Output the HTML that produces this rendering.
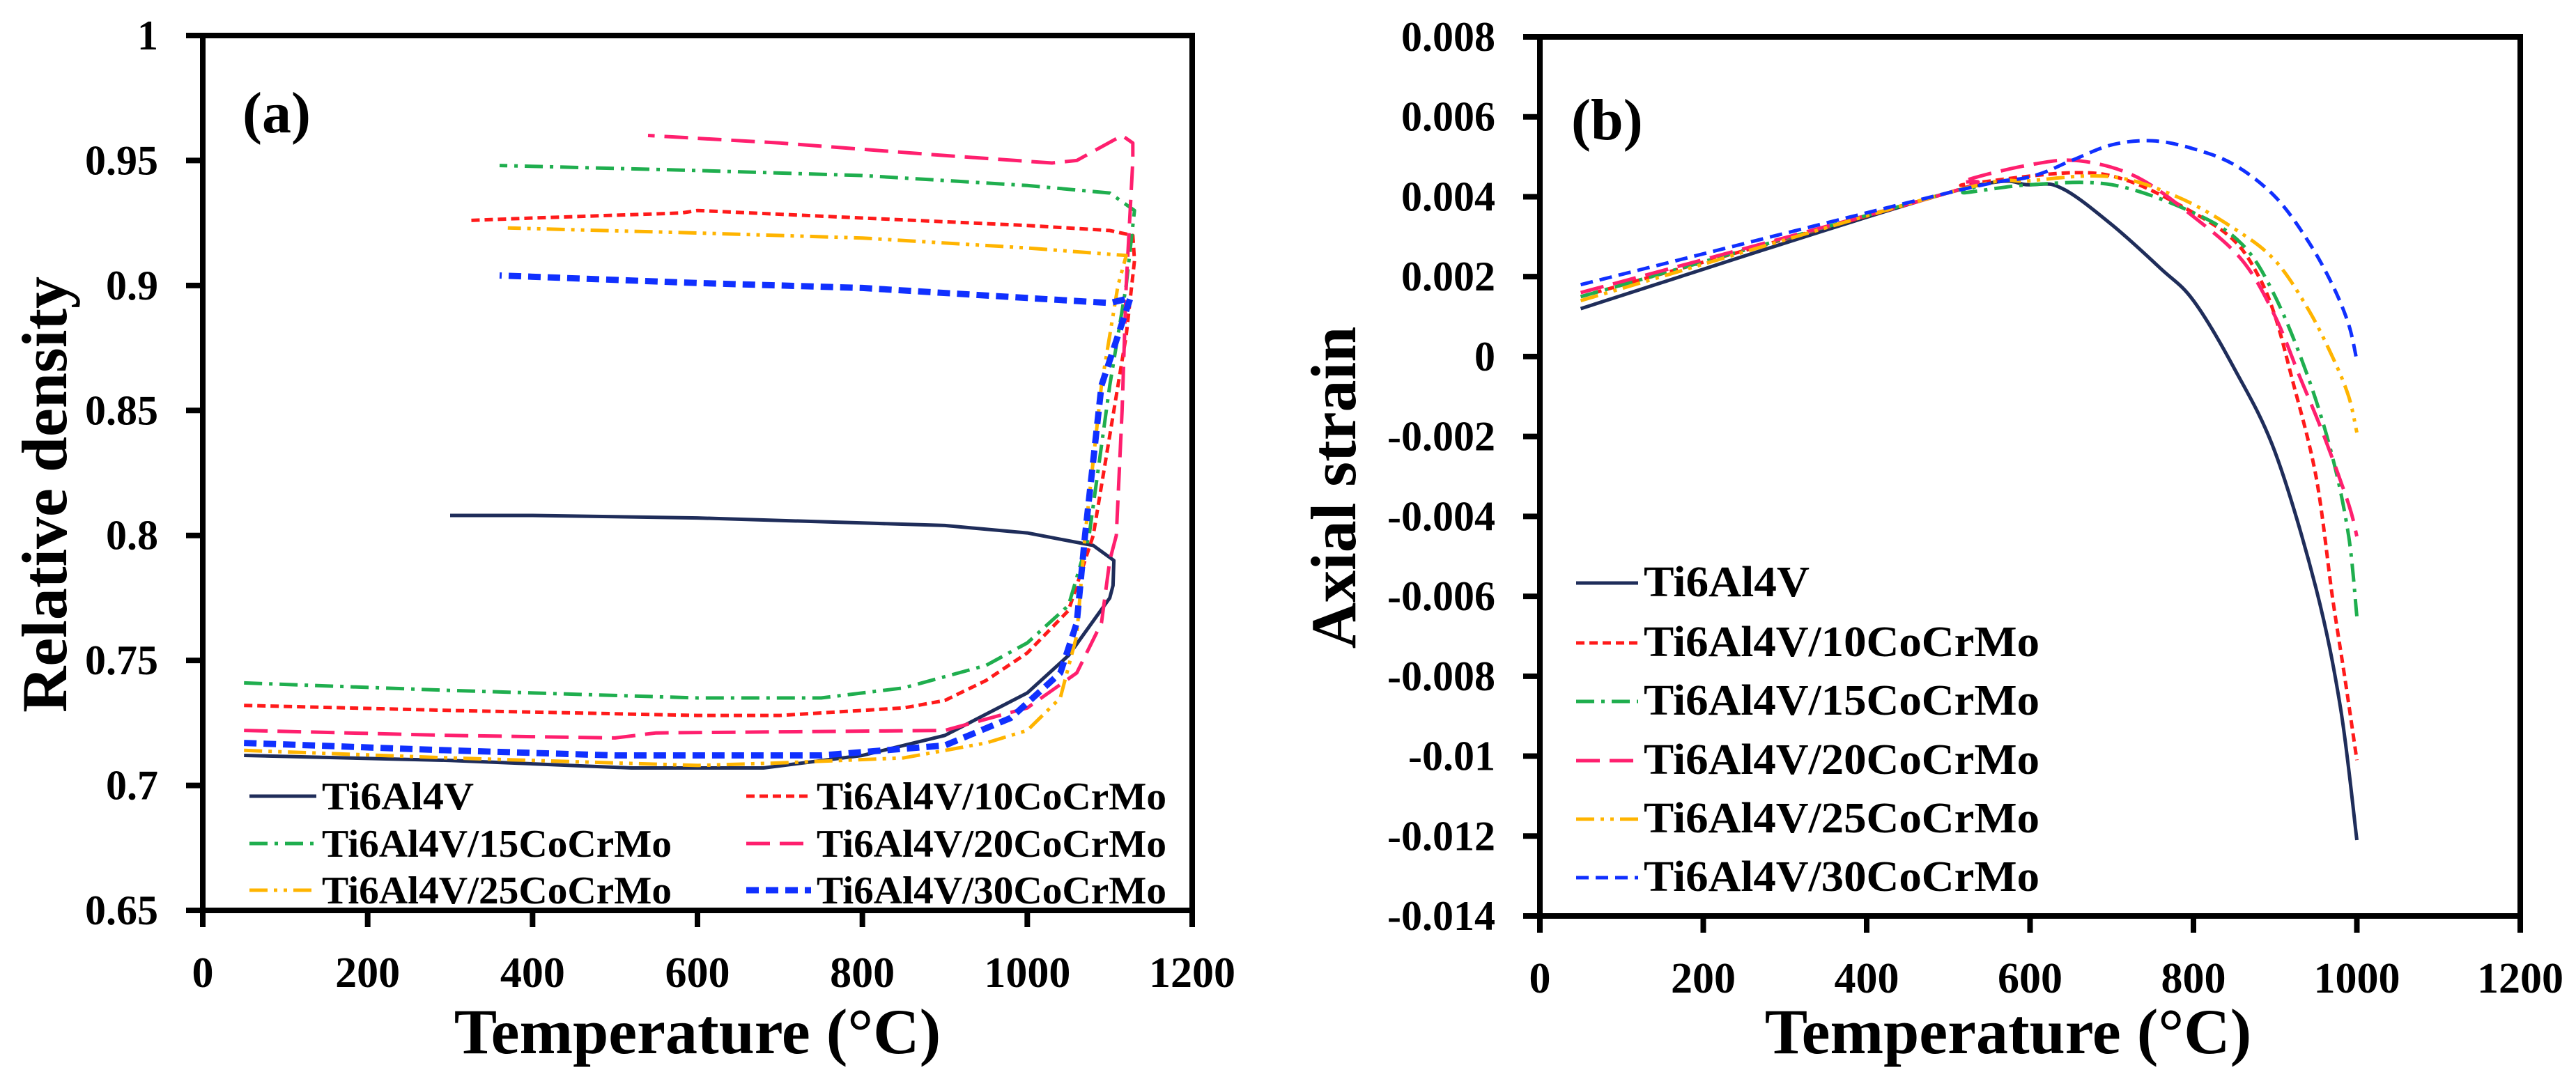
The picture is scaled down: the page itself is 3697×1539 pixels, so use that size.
<!DOCTYPE html>
<html><head><meta charset="utf-8"><style>
html,body{margin:0;padding:0;background:#fff;}
svg{display:block;}
text{font-family:"Liberation Serif",serif;font-weight:bold;fill:#000;}
</style></head><body>
<svg id="chart" width="3697" height="1539" viewBox="0 0 3697 1539" xmlns="http://www.w3.org/2000/svg">
<g id="pa"></g>
<g id="pb"></g>
</svg>
<script>
// ---------- Panel (a) data ----------
const aXTicks = [0,200,400,600,800,1000,1200];
const aYTicks = [0.65,0.7,0.75,0.8,0.85,0.9,0.95,1];
const aYLabels = ["0.65","0.7","0.75","0.8","0.85","0.9","0.95","1"];
const aT0 = [50,300,520,680,800,900,1000,1050,1100,1104,1105,1080,1000,900,800,600,400,300];
const aV0 = [0.712,0.710,0.707,0.707,0.712,0.720,0.737,0.752,0.775,0.780,0.790,0.796,0.801,0.804,0.805,0.807,0.808,0.808];
const aT10 = [50,300,600,700,850,900,950,1000,1050,1080,1100,1120,1130,1128,1100,1000,800,600,580,400,320];
const aV10 = [0.732,0.730,0.728,0.728,0.731,0.734,0.742,0.753,0.770,0.800,0.840,0.880,0.910,0.920,0.922,0.924,0.927,0.930,0.929,0.927,0.926];
const aT15 = [50,300,600,750,850,950,1000,1050,1075,1100,1120,1130,1100,1000,800,600,360];
const aV15 = [0.741,0.738,0.735,0.735,0.739,0.748,0.757,0.772,0.800,0.860,0.900,0.930,0.937,0.940,0.944,0.946,0.948];
const aT20 = [50,300,500,550,900,1000,1060,1090,1100,1108,1115,1120,1128,1128,1115,1060,1030,900,700,540];
const aV20 = [0.722,0.720,0.719,0.721,0.722,0.731,0.745,0.765,0.790,0.800,0.850,0.900,0.950,0.957,0.960,0.950,0.949,0.952,0.957,0.960];
const aT25 = [50,300,600,700,850,950,1000,1040,1060,1070,1090,1110,1120,1080,1000,800,600,370];
const aV25 = [0.714,0.711,0.708,0.709,0.711,0.717,0.722,0.735,0.760,0.800,0.860,0.900,0.912,0.913,0.915,0.919,0.921,0.923];
const aT30 = [50,300,500,750,900,980,1040,1060,1070,1090,1110,1125,1100,1000,800,600,360];
const aV30 = [0.717,0.714,0.712,0.712,0.716,0.727,0.745,0.765,0.800,0.860,0.880,0.895,0.893,0.895,0.899,0.901,0.904];

// ---------- Panel (b) data ----------
const bXTicks = [0,200,400,600,800,1000,1200];
const bYTicks = [-0.014,-0.012,-0.01,-0.008,-0.006,-0.004,-0.002,0,0.002,0.004,0.006,0.008];
const bYLabels = ["-0.014","-0.012","-0.01","-0.008","-0.006","-0.004","-0.002","0","0.002","0.004","0.006","0.008"];
const bT0 = [50,500,600,640,700,760,800,850,900,950,980,1000];
const bV0 = [0.0012,0.0041,0.0043,0.0042,0.0033,0.0022,0.0014,-0.0003,-0.0024,-0.0058,-0.0088,-0.0121];
const bT10 = [50,500,520,650,720,800,850,880,900,920,950,970,985,1000];
const bV10 = [0.0015,0.0041,0.0043,0.0046,0.0044,0.0036,0.0029,0.0020,0.0010,-0.0005,-0.0030,-0.0060,-0.0080,-0.0101];
const bT15 = [50,500,520,600,700,800,860,900,940,970,990,1000];
const bV15 = [0.0015,0.0041,0.0041,0.0043,0.0043,0.0036,0.0028,0.0015,-0.0005,-0.0025,-0.0045,-0.0065];
const bT20 = [50,500,520,600,660,730,800,860,900,930,960,990,1000];
const bV20 = [0.0016,0.0041,0.0044,0.0048,0.0049,0.0045,0.0035,0.0024,0.0010,-0.0005,-0.0020,-0.0037,-0.0045];
const bT25 = [50,500,600,700,780,850,900,940,970,990,1000];
const bV25 = [0.0014,0.0041,0.0044,0.0045,0.0040,0.0032,0.0024,0.0012,0.0000,-0.0010,-0.0019];
const bT30 = [50,500,600,650,700,750,800,850,900,940,970,990,1000];
const bV30 = [0.0018,0.0041,0.0045,0.0049,0.0053,0.0054,0.0052,0.0048,0.0040,0.0029,0.0018,0.0008,-0.0001];

const legendNames = ["Ti6Al4V","Ti6Al4V/10CoCrMo","Ti6Al4V/15CoCrMo","Ti6Al4V/20CoCrMo","Ti6Al4V/25CoCrMo","Ti6Al4V/30CoCrMo"];
const styles = [
 {c:"#1f2d5a",w:5,d:""},
 {c:"#ff1a1a",w:5,d:"12 7"},
 {c:"#1fae4e",w:5,d:"26 10 5 10"},
 {c:"#ff1f6e",w:5,d:"34 14"},
 {c:"#ffb400",w:5,d:"26 9 5 9 5 9"},
 {c:"#1030ff",w:5,d:"18 10"}
];
const NS="http://www.w3.org/2000/svg";
function mk(parent,tag,attrs,txt){const e=document.createElementNS(NS,tag);for(const k in attrs)e.setAttribute(k,attrs[k]);if(txt!==undefined)e.textContent=txt;parent.appendChild(e);return e;}
function smoothPath(P){
  let d="M"+P[0][0].toFixed(1)+","+P[0][1].toFixed(1);
  for(let i=0;i<P.length-1;i++){
    const p0=P[Math.max(i-1,0)],p1=P[i],p2=P[i+1],p3=P[Math.min(i+2,P.length-1)];
    const c1=[p1[0]+(p2[0]-p0[0])/6,p1[1]+(p2[1]-p0[1])/6];
    const c2=[p2[0]-(p3[0]-p1[0])/6,p2[1]-(p3[1]-p1[1])/6];
    d+=" C"+c1[0].toFixed(1)+","+c1[1].toFixed(1)+" "+c2[0].toFixed(1)+","+c2[1].toFixed(1)+" "+p2[0].toFixed(1)+","+p2[1].toFixed(1);
  }
  return d;
}

function drawPanel(g,cfg){
  const sx=v=>cfg.x0+(v-cfg.xmin)/(cfg.xmax-cfg.xmin)*(cfg.x1-cfg.x0);
  const sy=v=>cfg.y0+(v-cfg.ymin)/(cfg.ymax-cfg.ymin)*(cfg.y1-cfg.y0);
  cfg.series.forEach((s,i)=>{
    const P=s.t.map((t,j)=>[sx(t),sy(s.v[j])]);
    const st=styles[i];
    let p;
    const w=(cfg.thick&&i===5)?9:st.w;
    if(cfg.smooth){
      p=mk(g,"path",{d:smoothPath(P),fill:"none",stroke:st.c,"stroke-width":w,"stroke-dasharray":st.d,"stroke-linejoin":"round"});
    } else {
      p=mk(g,"polyline",{points:P.map(q=>q[0].toFixed(1)+","+q[1].toFixed(1)).join(" "),fill:"none",stroke:st.c,"stroke-width":w,"stroke-dasharray":st.d,"stroke-linejoin":"round"});
    }
    
    
  });
  const f=mk(g,"rect",{x:cfg.x0,y:cfg.y1,width:cfg.x1-cfg.x0,height:cfg.y0-cfg.y1,fill:"none",stroke:"#000","stroke-width":8});
  
  
  cfg.xt.forEach(v=>{
    const x=sx(v);
    const l=mk(g,"line",{x1:x,x2:x,y1:cfg.y0,y2:cfg.y0+24,stroke:"#000","stroke-width":8});
    
    
    const t=mk(g,"text",{x:x,y:cfg.y0+110,"text-anchor":"middle","font-size":62},String(v));
    
    
  });
  cfg.yt.forEach((v,i)=>{
    const y=sy(v);
    const l=mk(g,"line",{x1:cfg.x0-24,x2:cfg.x0,y1:y,y2:y,stroke:"#000","stroke-width":8});
    
    
    const t=mk(g,"text",{x:cfg.x0-64,y:y+20,"text-anchor":"end","font-size":60},cfg.yl[i]);
    
    
  });
  const xt=mk(g,"text",{x:cfg.xtx,y:1512,"text-anchor":"middle","font-size":92},"Temperature (°C)");
  
  
  const yt=mk(g,"text",{x:0,y:0,"text-anchor":"middle","font-size":92,transform:`translate(${cfg.ytx},${cfg.yty}) rotate(-90)`},cfg.ytitle);
  
  
  const pl=mk(g,"text",{x:cfg.plx,y:cfg.ply,"font-size":84},cfg.plabel);
  
  
  cfg.leg.forEach((L,i)=>{
    const st=styles[i];
    const ln=mk(g,"line",{x1:L[0],x2:L[0]+L[3],y1:L[1],y2:L[1],stroke:st.c,"stroke-width":(cfg.thick&&i===5)?9:st.w,"stroke-dasharray":st.d});
    
    
    const tx=mk(g,"text",{x:L[0]+L[3]+8,y:L[1]+19,"font-size":L[2],textLength:L[4],lengthAdjust:"spacingAndGlyphs"},legendNames[i]);
    
    
  });
}

drawPanel(document.getElementById("pa"),{
  x0:291,x1:1711,y0:1307,y1:51,xmin:0,xmax:1200,ymin:0.65,ymax:1,
  xt:aXTicks,yt:aYTicks,yl:aYLabels,thick:true,smooth:false,
  series:[{t:aT0,v:aV0},{t:aT10,v:aV10},{t:aT15,v:aV15},{t:aT20,v:aV20},{t:aT25,v:aV25},{t:aT30,v:aV30}],
  xtx:1001,ytx:95,yty:710,ytitle:"Relative density",plx:348,ply:190,plabel:"(a)",
  leg:[[358,1143,56,96,218],[1071,1143,56,93,502],[358,1211,56,96,502],[1071,1211,56,93,502],[358,1278,56,96,502],[1071,1278,56,93,502]]
});
drawPanel(document.getElementById("pb"),{
  x0:2210,x1:3617,y0:1315,y1:53,xmin:0,xmax:1200,ymin:-0.014,ymax:0.008,
  xt:bXTicks,yt:bYTicks,yl:bYLabels,thick:false,smooth:true,
  series:[{t:bT0,v:bV0},{t:bT10,v:bV10},{t:bT15,v:bV15},{t:bT20,v:bV20},{t:bT25,v:bV25},{t:bT30,v:bV30}],
  xtx:2882,ytx:1945,yty:700,ytitle:"Axial strain",plx:2255,ply:200,plabel:"(b)",
  leg:[[2262,837,62,89,238],[2262,923,62,89,568],[2262,1007,62,89,568],[2262,1092,62,89,568],[2262,1176,62,89,568],[2262,1260,62,89,568]]
});
</script>
</body></html>
